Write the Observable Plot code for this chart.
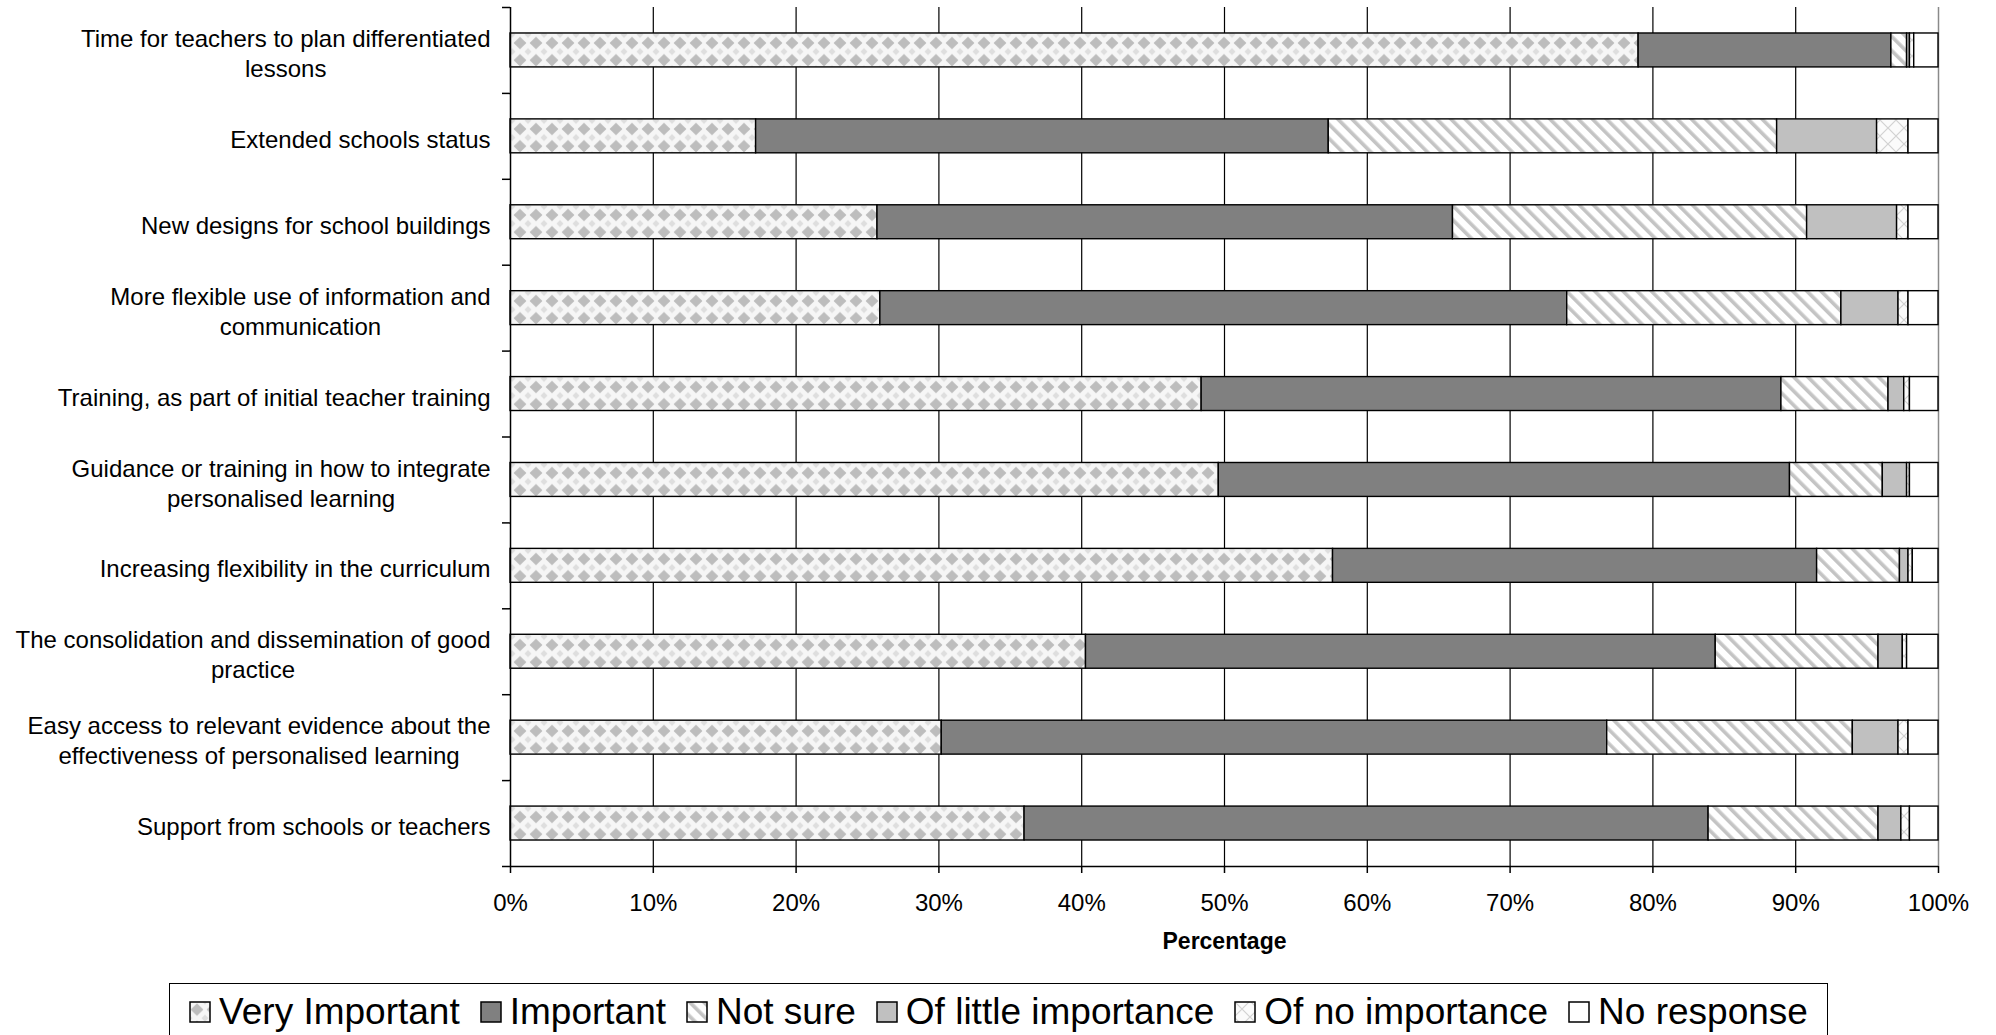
<!DOCTYPE html>
<html><head><meta charset="utf-8">
<script src="https://cdn.jsdelivr.net/npm/d3@7"></script>
<script src="https://cdn.jsdelivr.net/npm/@observablehq/plot@0.6"></script>
<style>
html,body{margin:0;padding:0;background:#fff;overflow:hidden;width:1996px;height:1035px;}
#chart{position:absolute;left:0;top:0;}
#legend{position:absolute;left:169px;top:983px;width:1659px;height:80px;box-sizing:border-box;border:1.5px solid #000;background:#fff;display:flex;justify-content:center;align-items:flex-start;padding-top:7px;font-family:"Liberation Sans",Arial,sans-serif;font-size:37px;color:#000;white-space:nowrap;}
.item{display:flex;align-items:center;margin:0 10px;}
.item svg{margin-right:8px;display:block;}
</style></head><body>
<svg width="0" height="0" style="position:absolute;left:0;top:0">
<defs>
<pattern id="pVI" patternUnits="userSpaceOnUse" width="16" height="17.2">
  <rect width="16" height="17.2" fill="#f6f6f6"/>
  <polygon points="0,0 3.5,0 0,3.5" fill="#dedede"/>
  <polygon points="16,0 12.5,0 16,3.5" fill="#dedede"/>
  <polygon points="0,17.2 3.5,17.2 0,13.7" fill="#dedede"/>
  <polygon points="16,17.2 12.5,17.2 16,13.7" fill="#dedede"/>
  <polygon points="8,2.4 14.4,8.6 8,14.8 1.6,8.6" fill="#bdbdbd"/>
</pattern>
<pattern id="pNS" patternUnits="userSpaceOnUse" width="10" height="10" patternTransform="rotate(-45)">
  <rect width="10" height="10" fill="#ffffff"/>
  <rect x="0" y="0" width="3.6" height="10" fill="#c4c4c4"/>
</pattern>
<pattern id="pNI" patternUnits="userSpaceOnUse" width="16" height="16">
  <rect width="16" height="16" fill="#fbfbfb"/>
  <path d="M0,0L16,16M16,0L0,16" stroke="#d2d2d2" stroke-width="1.2" fill="none"/>
</pattern>
</defs>
</svg>
<div id="chart"></div>
<div id="legend"></div>
<script>
// ---- data ----
const categories = [
  "Time for teachers to plan differentiated\nlessons",
  "Extended schools status",
  "New designs for school buildings",
  "More flexible use of information and\ncommunication",
  "Training, as part of initial teacher training",
  "Guidance or training in how to integrate\npersonalised learning",
  "Increasing flexibility in the curriculum",
  "The consolidation and dissemination of good\npractice",
  "Easy access to relevant evidence about the\neffectiveness of personalised learning",
  "Support from schools or teachers"
];
const seriesNames = ["Very Important", "Important", "Not sure", "Of little importance", "Of no importance", "No response"];
const veryImportant    = [79.0, 17.2, 25.7, 25.9, 48.4, 49.6, 57.6, 40.3, 30.2, 36.0];
const important        = [17.7, 40.1, 40.3, 48.1, 40.6, 40.0, 33.9, 44.1, 46.6, 47.9];
const notSure          = [ 1.1, 31.4, 24.8, 19.2,  7.5,  6.5,  5.8, 11.4, 17.2, 11.9];
const littleImportance = [ 0.2,  7.0,  6.3,  4.0,  1.1,  1.7,  0.6,  1.7,  3.2,  1.6];
const noImportance     = [ 0.3,  2.2,  0.8,  0.7,  0.4,  0.2,  0.3,  0.3,  0.7,  0.6];
const noResponse       = [ 1.7,  2.1,  2.1,  2.1,  2.0,  2.0,  1.8,  2.2,  2.1,  2.0];
const xTicks = [0, 10, 20, 30, 40, 50, 60, 70, 80, 90, 100];
const axisTitle = "Percentage";

// ---- styles ----
const fills = ["url(#pVI)", "#808080", "url(#pNS)", "#c0c0c0", "url(#pNI)", "#ffffff"];
const seriesValues = [veryImportant, important, notSure, littleImportance, noImportance, noResponse];
const rows = categories.flatMap((c, i) => seriesNames.map((s, j) => ({category: c, response: s, value: seriesValues[j][i]})));

const W = 1996, H = 975;
const mL = 510, mR = 58, mT = 7, mB = 109;
const pInner = 0.605, pOuter = pInner / 2;
const step = (H - mT - mB) / (categories.length - pInner + 2 * pOuter);
const half = step / 2;
const font = "'Liberation Sans', Arial, sans-serif";

const ctx = document.createElement("canvas").getContext("2d");
ctx.font = "24px 'Liberation Sans'";
const blockWidth = c => Math.max(...c.split("\n").map(l => ctx.measureText(l).width));

const labelMarks = categories.map(c => Plot.text([c], {
  y: d => d, frameAnchor: "left", textAnchor: "middle", lineAnchor: "middle",
  lineHeight: 1.25, fontSize: 24, dx: -(20 + blockWidth(c) / 2), dy: 2, fill: "black"
}));

const chart = Plot.plot({
  width: W, height: H,
  marginLeft: mL, marginRight: mR, marginTop: mT, marginBottom: mB,
  style: {fontFamily: font, fontSize: "24px", color: "black", background: "white", overflow: "visible"},
  x: {domain: [0, 100]},
  y: {domain: categories, paddingInner: pInner, paddingOuter: pOuter, align: 0.5, round: false},
  color: {type: "ordinal", domain: seriesNames, range: fills},
  marks: [
    Plot.ruleX(xTicks.filter(t => t > 0 && t < 100), {stroke: "black", strokeWidth: 1.2}),
    Plot.ruleX([100], {stroke: "#8a8a8a", strokeWidth: 1.5}),
    Plot.barX(rows, Plot.stackX({y: "category", x: "value", fill: "response", order: seriesNames, stroke: "black", strokeWidth: 1.4})),
    Plot.ruleX([0], {stroke: "black", strokeWidth: 1.5}),
    Plot.ruleY([categories[categories.length - 1]], {dy: half, x1: 0, x2: 100, stroke: "black", strokeWidth: 1.5}),
    Plot.axisY({tickSize: 8, tickFormat: () => "", label: null, dy: -half, stroke: "black", strokeWidth: 1.5}),
    Plot.axisY([categories[categories.length - 1]], {tickSize: 8, tickFormat: () => "", label: null, dy: half, stroke: "black", strokeWidth: 1.5}),
    Plot.axisX({ticks: xTicks, tickFormat: d => d + "%", tickSize: 7, tickPadding: 20, fontSize: 24, label: null, stroke: "black", strokeWidth: 1.5, fill: "black"}),
    Plot.text([axisTitle], {frameAnchor: "bottom", dy: 82, fontWeight: "bold", fontSize: 23, fill: "black"}),
    ...labelMarks
  ]
});
document.getElementById("chart").appendChild(chart);

// ---- legend ----
const legend = document.getElementById("legend");
seriesNames.forEach((s, j) => {
  const item = document.createElement("div");
  item.className = "item";
  item.innerHTML = `<svg width="22" height="22"><rect x="1" y="1" width="20" height="20" fill="${fills[j]}" stroke="black" stroke-width="1.5"/></svg><span>${s}</span>`;
  legend.appendChild(item);
});
</script>
</body></html>
